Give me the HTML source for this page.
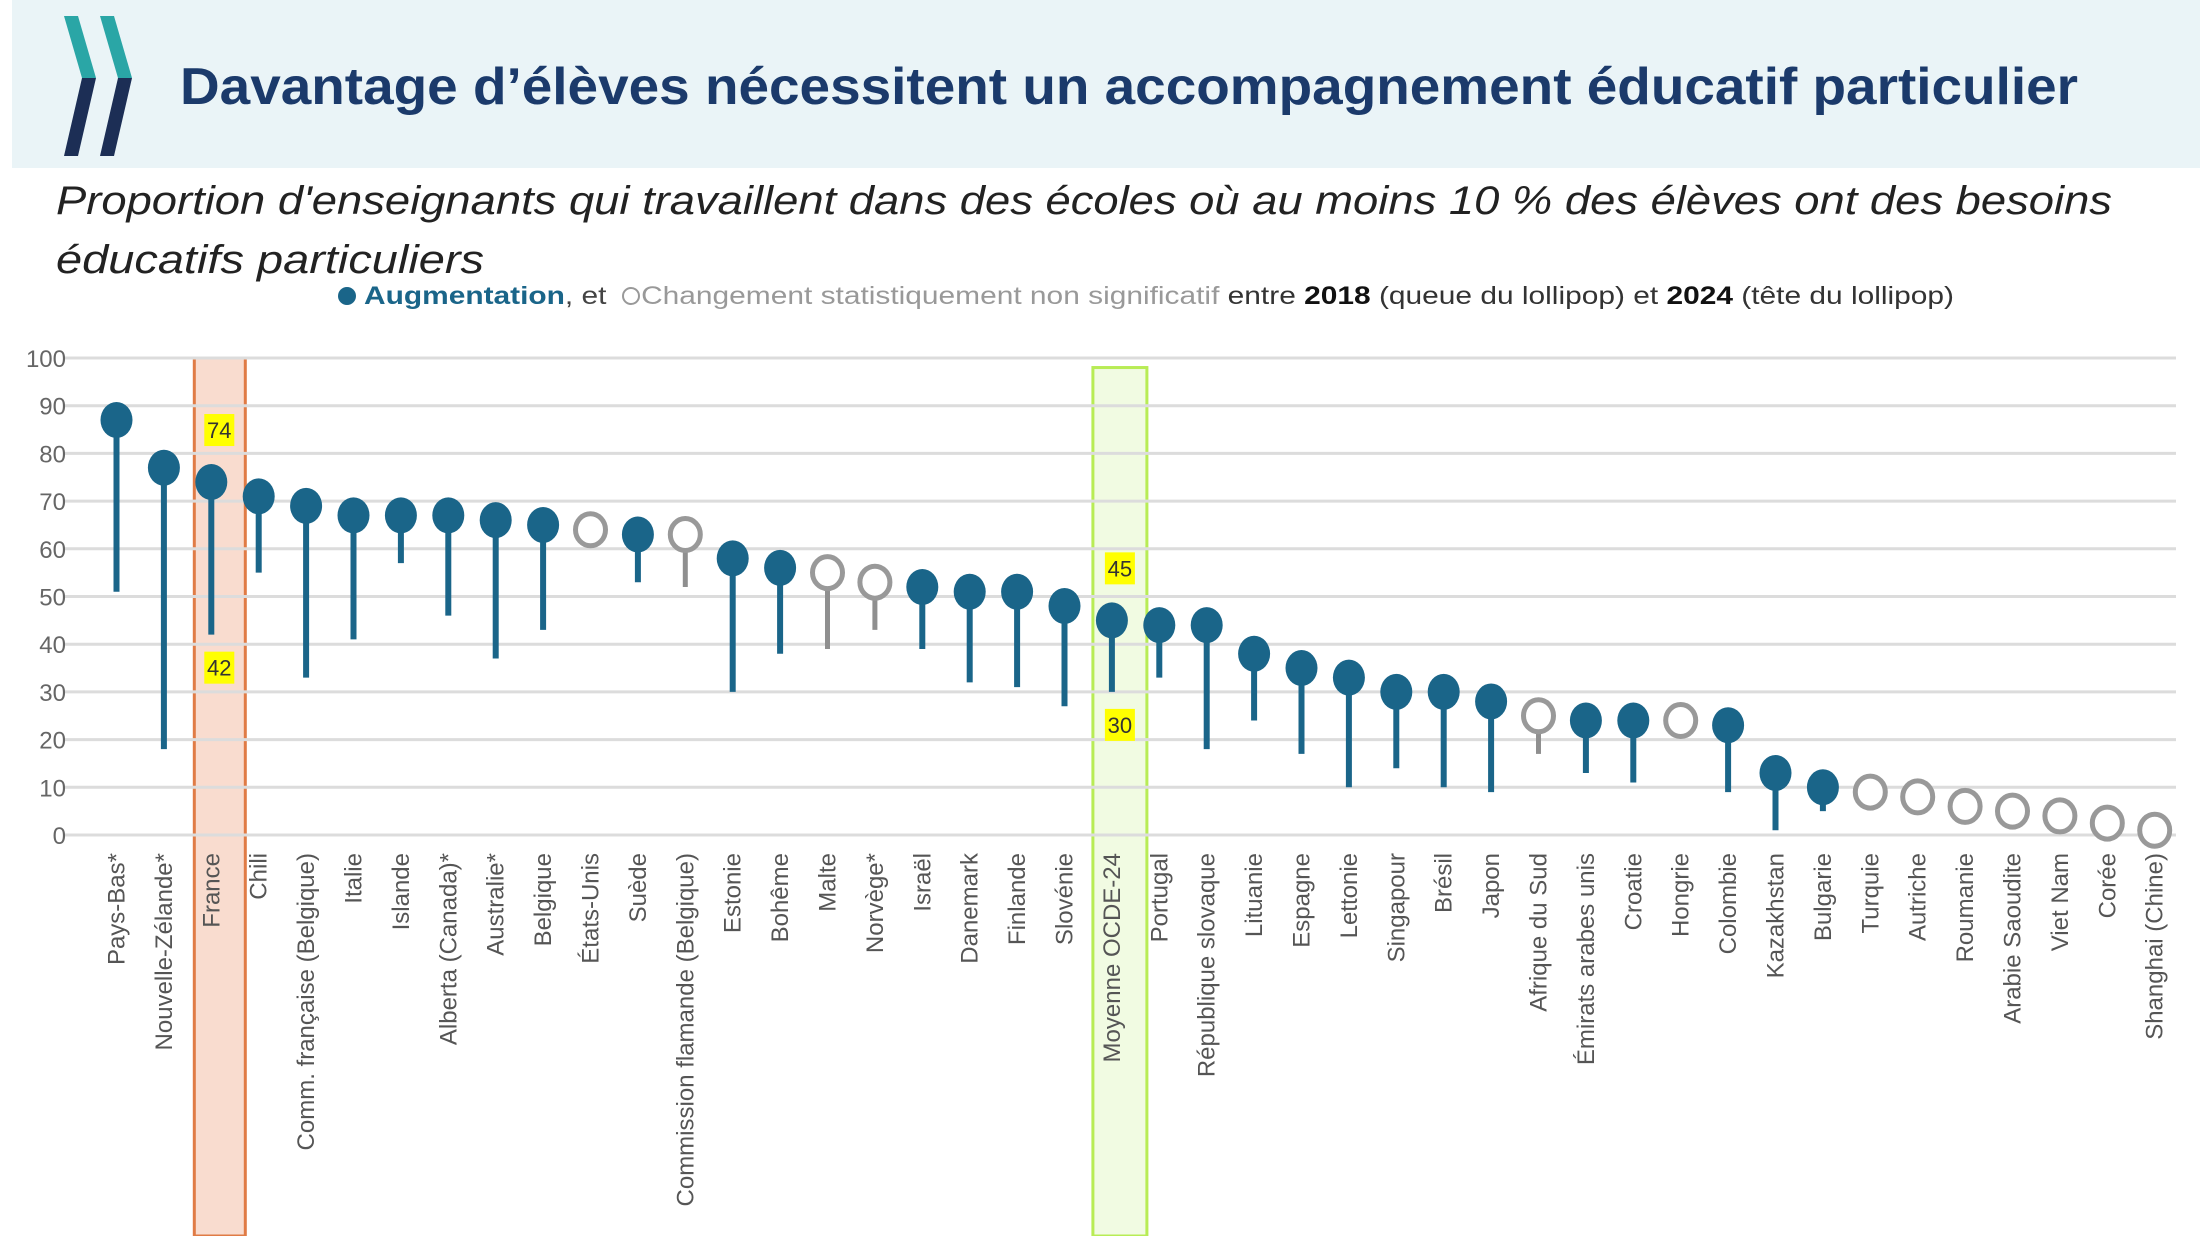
<!DOCTYPE html>
<html><head><meta charset="utf-8"><style>
html,body{margin:0;padding:0;background:#fff;}
svg{display:block;}
</style></head><body>
<svg id="chart" width="2200" height="1236" viewBox="0 0 2200 1236" xmlns="http://www.w3.org/2000/svg">
  <rect x="12" y="0" width="2188" height="168" fill="#eaf4f7"/>
  <g>
    <polygon points="64,16 78,16 96,78 82,78" fill="#2aa6a6"/>
    <polygon points="100,16 114,16 132,78 118,78" fill="#2aa6a6"/>
    <polygon points="82,78 96,78 78,156 64,156" fill="#1c2e55"/>
    <polygon points="118,78 132,78 114,156 100,156" fill="#1c2e55"/>
  </g>
  <text x="180" y="104" font-family="'Liberation Sans',sans-serif" font-weight="bold" font-size="52" fill="#1b3a6b" textLength="1898" lengthAdjust="spacingAndGlyphs">Davantage d’élèves nécessitent un accompagnement éducatif particulier</text>
  <text x="56" y="214" font-family="'Liberation Sans',sans-serif" font-style="italic" font-size="40" fill="#222" textLength="2056" lengthAdjust="spacingAndGlyphs">Proportion d'enseignants qui travaillent dans des écoles où au moins 10 % des élèves ont des besoins</text>
  <text x="56" y="273" font-family="'Liberation Sans',sans-serif" font-style="italic" font-size="40" fill="#222" textLength="428" lengthAdjust="spacingAndGlyphs">éducatifs particuliers</text>
  <g>
    <circle cx="347" cy="296" r="9" fill="#1a6589"/>
    <circle cx="631" cy="296" r="8" fill="none" stroke="#999" stroke-width="2"/>
    <text x="364" y="304" font-family="'Liberation Sans',sans-serif" font-size="25" textLength="1590" lengthAdjust="spacingAndGlyphs"><tspan fill="#1a6589" font-weight="bold">Augmentation</tspan><tspan fill="#444">, et </tspan><tspan dx="22" fill="#999">Changement statistiquement non significatif</tspan><tspan fill="#333"> entre </tspan><tspan fill="#111" font-weight="bold">2018</tspan><tspan fill="#333"> (queue du lollipop) et </tspan><tspan fill="#111" font-weight="bold">2024</tspan><tspan fill="#333"> (tête du lollipop)</tspan></text>
  </g>
  <g id="plot"></g>
</svg>
<script>
const categories = ["Pays-Bas*","Nouvelle-Zélande*","France","Chili","Comm. française (Belgique)","Italie","Islande","Alberta (Canada)*","Australie*","Belgique","États-Unis","Suède","Commission flamande (Belgique)","Estonie","Bohême","Malte","Norvège*","Israël","Danemark","Finlande","Slovénie","Moyenne OCDE-24","Portugal","République slovaque","Lituanie","Espagne","Lettonie","Singapour","Brésil","Japon","Afrique du Sud","Émirats arabes unis","Croatie","Hongrie","Colombie","Kazakhstan","Bulgarie","Turquie","Autriche","Roumanie","Arabie Saoudite","Viet Nam","Corée","Shanghai (Chine)"];
const values2024 = [87,77,74,71,69,67,67,67,66,65,64,63,63,58,56,55,53,52,51,51,48,45,44,44,38,35,33,30,30,28,25,24,24,24,23,13,10,9,8,6,5,4,2.5,1];
const values2018 = [51,18,42,55,33,41,57,46,37,43,62,53,52,30,38,39,43,39,32,31,27,30,33,18,24,17,10,14,10,9,17,13,11,22,9,1,5,9,8,6,5,4,2.5,1];
const significant = [1,1,1,1,1,1,1,1,1,1,0,1,0,1,1,0,0,1,1,1,1,1,1,1,1,1,1,1,1,1,0,1,1,0,1,1,1,0,0,0,0,0,0,0];
const yTicks = [0,10,20,30,40,50,60,70,80,90,100];
const highlightLabels = {2:[74,42],21:[45,30]};

const NS = "http://www.w3.org/2000/svg";
const plot = document.getElementById('plot');
const X0 = 116.5, XSTEP = 47.4, Y0 = 835, YTOP = 358;
function xScale(i){ return X0 + i*XSTEP; }
function yScale(v){ return Y0 - (v/100)*(Y0-YTOP); }
function mk(tag, attrs){ const e = document.createElementNS(NS, tag); for (const k in attrs) e.setAttribute(k, attrs[k]); plot.appendChild(e); return e; }

// highlight boxes
const fr = categories.indexOf("France");
const frBox = mk('rect',{x:xScale(fr)-17,y:yScale(100),width:51,height:1236-yScale(100),fill:'#f9dccf',stroke:'#e07b45','stroke-width':3});


const oc = categories.indexOf("Moyenne OCDE-24");
const ocBox = mk('rect',{x:xScale(oc)-19,y:yScale(98),width:54,height:1236-yScale(98),fill:'#f1fbe2',stroke:'#b8ec55','stroke-width':3});



// grid + y ticks
yTicks.forEach(t => {
  const g = mk('line',{x1:63,x2:2176,y1:yScale(t),y2:yScale(t),stroke:'#dcdcdc','stroke-width':3});
  
  
  const lb = mk('text',{x:66,y:yScale(t)+9,'text-anchor':'end','font-family':"'Liberation Sans',sans-serif",'font-size':24,fill:'#666'});
  lb.textContent = t;
  
  
});

// lollipops
categories.forEach((c,i) => {
  const x = xScale(i), sig = significant[i];
  const col = sig ? '#1a6589' : '#8f8f8f';
  const stem = mk('line',{x1:x,x2:x,y1:yScale(values2018[i]),y2:yScale(values2024[i]),stroke:col,'stroke-width':sig?6:5});
  
  
  const head = sig
    ? mk('ellipse',{cx:x,cy:yScale(values2024[i]),rx:16,ry:18,fill:'#1a6589'})
    : mk('ellipse',{cx:x,cy:yScale(values2024[i]),rx:15,ry:16,fill:'#fff',stroke:'#999','stroke-width':5});
  
  
  const lab = mk('text',{transform:`translate(${x+8},853) rotate(-90)`,'text-anchor':'end','font-family':"'Liberation Sans',sans-serif",'font-size':24,fill:'#555'});
  lab.textContent = c;
  
  
});

// yellow value labels
Object.keys(highlightLabels).forEach(k => {
  const i = +k, x = xScale(i);
  const [top, bot] = highlightLabels[k];
  [[top, yScale(top)-52],[bot, yScale(bot)+33]].forEach(([v,yc]) => {
    const r = mk('rect',{x:x-7,y:yc-16,width:30,height:32,fill:'#ffff00'});
    
    
    const t = mk('text',{x:x+8,y:yc+8,'text-anchor':'middle','font-family':"'Liberation Sans',sans-serif",'font-size':22,fill:'#333'});
    t.textContent = v;
    
    
  });
});
</script>
</body></html>
